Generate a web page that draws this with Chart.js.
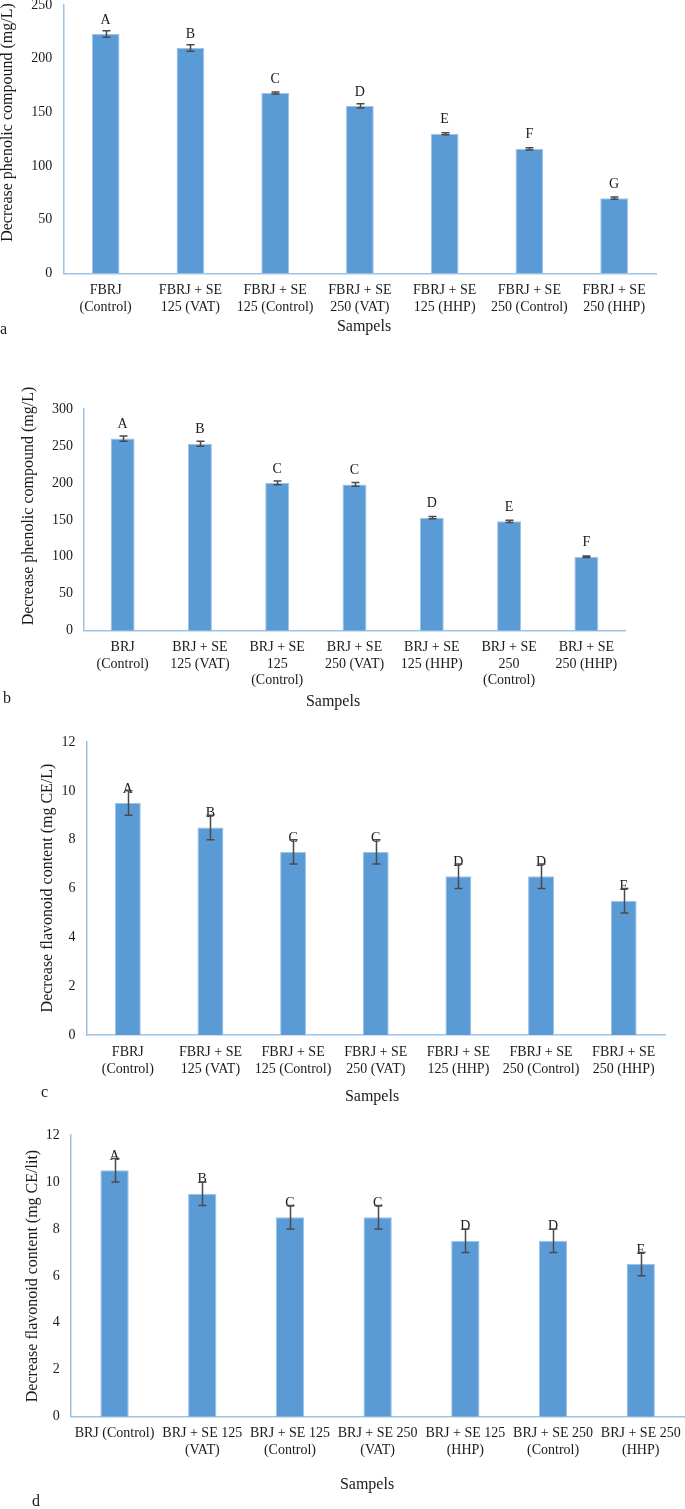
<!DOCTYPE html>
<html><head><meta charset="utf-8">
<script src="https://cdn.jsdelivr.net/npm/chart.js@4.4.1/dist/chart.umd.min.js"></script>
<style>
html,body{margin:0;padding:0;background:#fff;overflow:hidden;width:685px;height:1509px;position:relative;}
canvas{position:absolute;left:0;}
</style></head><body>
<canvas id="ca" width="685" height="363" style="top:-25px"></canvas>
<canvas id="cb" width="685" height="374" style="top:338px"></canvas>
<canvas id="cc" width="685" height="393" style="top:712px"></canvas>
<canvas id="cd" width="700" height="404" style="top:1105px"></canvas>
<script>
// ---------- Data ----------
const categoriesA = [["FBRJ","(Control)"],["FBRJ + SE","125 (VAT)"],["FBRJ + SE","125 (Control)"],["FBRJ + SE","250 (VAT)"],["FBRJ + SE","125 (HHP)"],["FBRJ + SE","250 (Control)"],["FBRJ + SE","250 (HHP)"]];
const valuesA = [223, 210, 168, 156, 130, 116, 70];
const errorsA = [3, 3, 1, 2, 1, 1, 1];
const lettersA = ["A","B","C","D","E","F","G"];
const ticksA = [0, 50, 100, 150, 200, 250];

const categoriesB = [["BRJ","(Control)"],["BRJ + SE","125 (VAT)"],["BRJ + SE","125","(Control)"],["BRJ + SE","250 (VAT)"],["BRJ + SE","125 (HHP)"],["BRJ + SE","250","(Control)"],["BRJ + SE","250 (HHP)"]];
const valuesB = [260, 253, 200, 198, 153, 148, 100];
const errorsB = [3.5, 3.5, 2.5, 2.5, 1.5, 1.5, 1];
const lettersB = ["A","B","C","C","D","E","F"];
const ticksB = [0, 50, 100, 150, 200, 250, 300];

const categoriesC = [["FBRJ","(Control)"],["FBRJ + SE","125 (VAT)"],["FBRJ + SE","125 (Control)"],["FBRJ + SE","250 (VAT)"],["FBRJ + SE","125 (HHP)"],["FBRJ + SE","250 (Control)"],["FBRJ + SE","250 (HHP)"]];
const valuesC = [9.5, 8.5, 7.5, 7.5, 6.5, 6.5, 5.5];
const errorsC = [0.5, 0.5, 0.5, 0.5, 0.5, 0.5, 0.5];
const lettersC = ["A","B","C","C","D","D","E"];
const ticksC = [0, 2, 4, 6, 8, 10, 12];

const categoriesD = [["BRJ (Control)"],["BRJ + SE 125","(VAT)"],["BRJ + SE 125","(Control)"],["BRJ + SE 250","(VAT)"],["BRJ + SE 125","(HHP)"],["BRJ + SE 250","(Control)"],["BRJ + SE 250","(HHP)"]];
const valuesD = [10.5, 9.5, 8.5, 8.5, 7.5, 7.5, 6.5];
const errorsD = [0.5, 0.5, 0.5, 0.5, 0.5, 0.5, 0.5];
const lettersD = ["A","B","C","C","D","D","E"];
const ticksD = [0, 2, 4, 6, 8, 10, 12];

// ---------- Rendering ----------
const FONT = '"Liberation Serif", "Times New Roman", serif';
const TXT = '#1a1a1a';

const annot = {
  id: 'annot',
  afterDatasetsDraw(chart) {
    const ctx = chart.ctx;
    const ds = chart.data.datasets[0];
    const meta = chart.getDatasetMeta(0);
    const ys = chart.scales.y;
    ctx.save();
    meta.data.forEach((bar, i) => {
      const v = ds.data[i], e = ds.errors[i];
      const x = Math.round(bar.x) + 0.5;
      const y1 = ys.getPixelForValue(v + e), y2 = ys.getPixelForValue(v - e);
      ctx.fillStyle = TXT;
      ctx.font = '14px ' + FONT;
      ctx.textAlign = 'center'; ctx.textBaseline = 'middle';
      ctx.fillText(ds.letters[i], bar.x, ys.getPixelForValue(v) - 14);
      ctx.strokeStyle = '#4a4a4a'; ctx.lineWidth = 1.5;
      ctx.beginPath();
      ctx.moveTo(x, y1); ctx.lineTo(x, y2);
      ctx.moveTo(x - 4, y1); ctx.lineTo(x + 4, y1);
      ctx.moveTo(x - 4, y2); ctx.lineTo(x + 4, y2);
      ctx.stroke();
    });
    ctx.restore();
  },
  afterDraw(chart, args, opts) {
    const ctx = chart.ctx;
    ctx.save();
    ctx.fillStyle = TXT;
    ctx.font = '16px ' + FONT;
    ctx.textBaseline = 'middle';
    ctx.save();
    ctx.translate(opts.yTitle.x, opts.yTitle.y);
    ctx.rotate(-Math.PI / 2);
    ctx.textAlign = 'center';
    ctx.fillText(opts.yTitle.text, 0, 0);
    ctx.restore();
    ctx.textAlign = 'center';
    ctx.fillText(opts.xTitle.text, opts.xTitle.x, opts.xTitle.y);
    ctx.textAlign = 'left';
    ctx.fillText(opts.tag.text, opts.tag.x, opts.tag.y);
    ctx.restore();
  }
};

function makeChart(id, p) {
  const canvas = document.getElementById(id);
  const W = canvas.width, H = canvas.height;
  const top0 = p.bandTop;
  new Chart(canvas, {
    type: 'bar',
    data: {
      labels: p.categories,
      datasets: [{
        data: p.values,
        errors: p.errors,
        letters: p.letters,
        backgroundColor: '#5B9BD5',
        borderColor: '#9DC3E6',
        borderWidth: 1,
        barPercentage: p.barPct,
        categoryPercentage: 1
      }]
    },
    options: {
      responsive: false,
      animation: false,
      devicePixelRatio: 1,
      events: [],
      layout: { padding: { left: 0, top: p.area.top - top0, right: W - p.area.right, bottom: 0 } },
      plugins: {
        legend: { display: false },
        tooltip: { enabled: false },
        annot: {
          yTitle: { text: p.yTitle, x: p.yTitlePos[0], y: p.yTitlePos[1] - top0 },
          xTitle: { text: 'Sampels', x: p.xTitlePos[0], y: p.xTitlePos[1] - top0 },
          tag: { text: p.tag, x: p.tagPos[0], y: p.tagPos[1] - top0 }
        }
      },
      scales: {
        x: {
          grid: { display: false, drawTicks: false },
          border: { display: true, color: '#9DC3E6', width: 1.5 },
          ticks: { color: TXT, font: { family: FONT, size: 14, lineHeight: 1.2 }, padding: p.xPad, autoSkip: false, maxRotation: 0, minRotation: 0 },
          afterFit: s => { s.height = (top0 + H) - p.area.bottom; }
        },
        y: {
          min: p.ticks[0], max: p.ticks[p.ticks.length - 1],
          grid: { display: false, drawTicks: false },
          border: { display: true, color: '#9DC3E6', width: 1.5 },
          ticks: { color: TXT, font: { family: FONT, size: 14 }, padding: 11 },
          afterBuildTicks: s => { s.ticks = p.ticks.map(v => ({ value: v })); },
          afterFit: s => { s.width = p.area.left; }
        }
      }
    },
    plugins: [annot]
  });
}

makeChart('ca', {
  bandTop: -25, area: { left: 63.3, top: 5, right: 656.5, bottom: 273.3 },
  categories: categoriesA, values: valuesA, errors: errorsA, letters: lettersA, ticks: ticksA,
  barPct: 0.327, xPad: 9,
  yTitle: 'Decrease phenolic compound (mg/L)', yTitlePos: [8, 122.5],
  xTitlePos: [364, 327], tag: 'a', tagPos: [0, 330]
});
makeChart('cb', {
  bandTop: 338, area: { left: 84, top: 409, right: 625, bottom: 630.7 },
  categories: categoriesB, values: valuesB, errors: errorsB, letters: lettersB, ticks: ticksB,
  barPct: 0.31, xPad: 8,
  yTitle: 'Decrease phenolic compound (mg/L)', yTitlePos: [29, 506],
  xTitlePos: [333, 702], tag: 'b', tagPos: [3, 699]
});
makeChart('cc', {
  bandTop: 712, area: { left: 86.5, top: 742, right: 665, bottom: 1035 },
  categories: categoriesC, values: valuesC, errors: errorsC, letters: lettersC, ticks: ticksC,
  barPct: 0.314, xPad: 9,
  yTitle: 'Decrease flavonoid content (mg CE/L)', yTitlePos: [48, 888],
  xTitlePos: [372, 1097], tag: 'c', tagPos: [41, 1093]
});
makeChart('cd', {
  bandTop: 1105, area: { left: 70.7, top: 1135, right: 684.6, bottom: 1416.7 },
  categories: categoriesD, values: valuesD, errors: errorsD, letters: lettersD, ticks: ticksD,
  barPct: 0.323, xPad: 8,
  yTitle: 'Decrease flavonoid content (mg CE/lit)', yTitlePos: [33, 1276],
  xTitlePos: [367, 1485], tag: 'd', tagPos: [32, 1502]
});
</script>
</body></html>
